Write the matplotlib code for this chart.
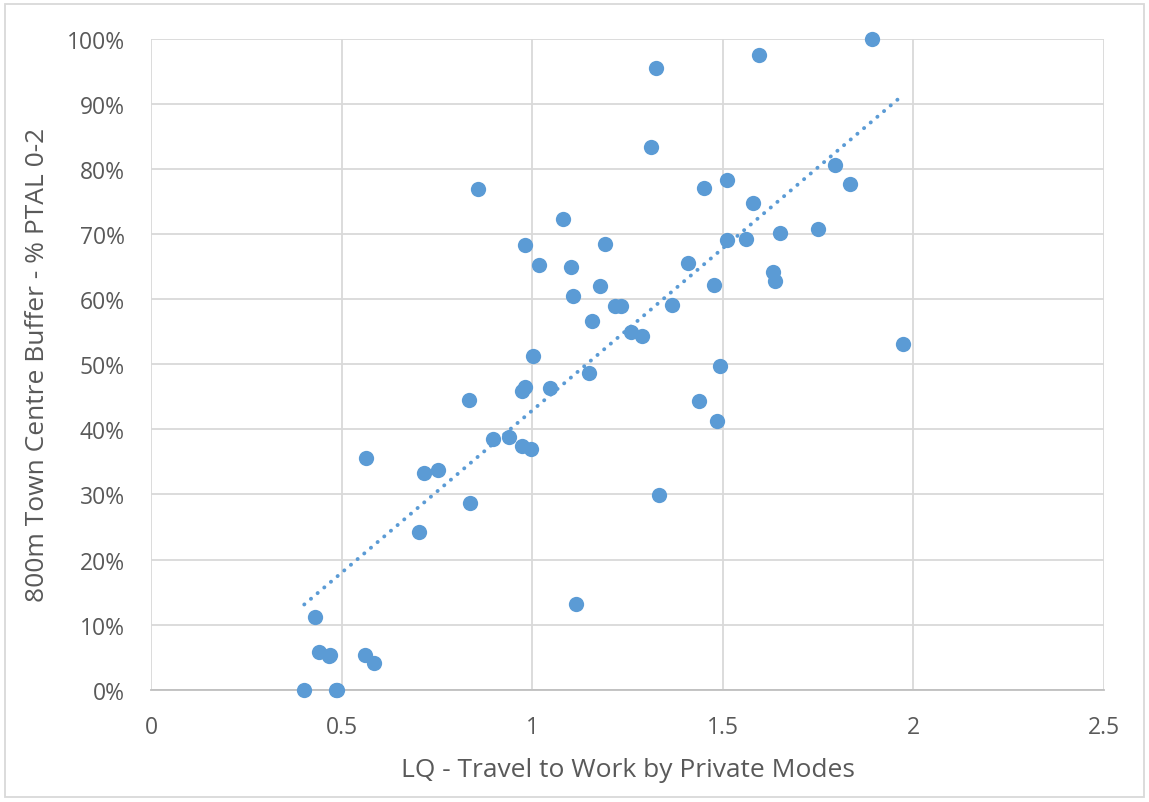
import numpy as np
import matplotlib
matplotlib.use("Agg")
import matplotlib.pyplot as plt
from matplotlib.patches import Rectangle
from matplotlib.ticker import FuncFormatter

# LQ - travel to work by private modes
lq_private = [
    0.402, 0.484, 0.489, 0.429, 0.442, 0.468, 0.470, 0.562, 0.586, 0.565,
    0.704, 0.717, 0.754, 0.838, 0.833, 0.859, 0.896, 0.940, 0.972, 0.996,
    0.972, 0.982, 1.048, 1.001, 0.982, 1.017, 1.082, 1.101, 1.106, 1.114,
    1.148, 1.158, 1.179, 1.192, 1.218, 1.234, 1.258, 1.289, 1.311, 1.326,
    1.332, 1.368, 1.410, 1.437, 1.450, 1.476, 1.484, 1.492, 1.510, 1.510,
    1.562, 1.578, 1.594, 1.631, 1.636, 1.649, 1.749, 1.794, 1.833, 1.891,
    1.972,
]

# % of 800m town centre buffer with PTAL 0-2
ptal_0_2 = [
    0.0, 0.0, 0.0, 11.2, 5.8, 5.2, 5.3, 5.3, 4.1, 35.6,
    24.2, 33.3, 33.8, 28.7, 44.5, 76.9, 38.5, 38.8, 37.4, 36.9,
    45.9, 46.5, 46.3, 51.3, 68.3, 65.2, 72.3, 64.9, 60.5, 13.2,
    48.6, 56.6, 62.0, 68.5, 58.9, 58.9, 54.9, 54.4, 83.4, 95.5,
    29.9, 59.1, 65.5, 44.3, 77.0, 62.2, 41.3, 49.7, 69.1, 78.3,
    69.2, 74.7, 97.5, 64.2, 62.8, 70.2, 70.7, 80.6, 77.7, 100.0,
    53.1,
]

x_ticks = [0, 0.5, 1, 1.5, 2, 2.5]
y_ticks = [0, 10, 20, 30, 40, 50, 60, 70, 80, 90, 100]

blue = "#5B9BD5"
grid_col = "#D9D9D9"
text_col = "#595959"

plt.rcParams["font.family"] = ["Open Sans", "DejaVu Sans"]

fig = plt.figure(figsize=(11.49, 8.03), dpi=100)
ax = fig.add_axes([151 / 1149, 1 - 690.7 / 803, (1104 - 151) / 1149, (690.7 - 39.7) / 803])

# linear trendline (least squares)
x = np.array(lq_private)
y = np.array(ptal_0_2)
slope, intercept = np.polyfit(x, y, 1)
tx = np.array([x.min(), x.max()])
ax.plot(tx, slope * tx + intercept, color=blue, linewidth=2.8,
        linestyle=(0, (0.05, 2.2)), dash_capstyle="round", zorder=2)

ax.plot(x, y, "o", color=blue, markersize=11, markeredgewidth=0,
        clip_on=False, zorder=3)

ax.set_xlim(0, 2.5)
ax.set_ylim(0, 100)
ax.set_xticks(x_ticks)
ax.set_yticks(y_ticks)
ax.xaxis.set_major_formatter(FuncFormatter(lambda v, p: "0" if v == 0 else f"{v:g}"))
ax.yaxis.set_major_formatter(FuncFormatter(lambda v, p: f"{v:.0f}%"))

ax.grid(True, color=grid_col, linewidth=1.3)
ax.set_axisbelow(True)
for side in ["top", "right", "left"]:
    ax.spines[side].set_visible(False)
ax.spines["bottom"].set_color("#BFBFBF")
ax.spines["bottom"].set_linewidth(1.3)
ax.tick_params(length=0, labelsize=16.5, colors=text_col)
ax.tick_params(axis="x", pad=18)
ax.tick_params(axis="y", pad=19)

ax.set_xlabel("LQ - Travel to Work by Private Modes", fontsize=19, color=text_col, va="center")
ax.set_ylabel("800m Town Centre Buffer - % PTAL 0-2", fontsize=19, color=text_col, va="center")
ax.xaxis.set_label_coords(0.5, (690.7 - 771) / 651)
ax.yaxis.set_label_coords((38 - 151) / 953, 0.5)

# outer chart border
fig.patches.append(Rectangle((5 / 1149, 5 / 803), 1139 / 1149, 793 / 803,
                             transform=fig.transFigure, fill=False,
                             edgecolor=grid_col, linewidth=1.3))

fig.savefig("out.png", dpi=100)
plt.close(fig)
